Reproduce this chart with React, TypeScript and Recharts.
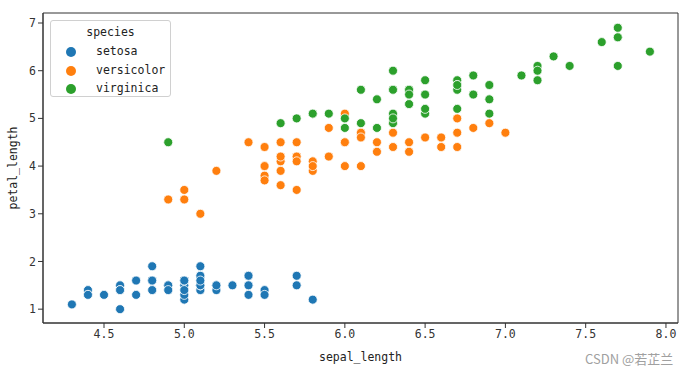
import { ReferenceArea, Scatter, ScatterChart, XAxis, YAxis } from "recharts";

const species = ["setosa", "versicolor", "virginica"];
const speciesColors = ["#1f77b4", "#ff7f0e", "#2ca02c"];

const setosaSepal = [
  5.1, 4.9, 4.7, 4.6, 5.0, 5.4, 4.6, 5.0, 4.4, 4.9, 5.4, 4.8, 4.8, 4.3, 5.8, 5.7, 5.4, 5.1, 5.7, 5.1,
  5.4, 5.1, 4.6, 5.1, 4.8, 5.0, 5.0, 5.2, 5.2, 4.7, 4.8, 5.4, 5.2, 5.5, 4.9, 5.0, 5.5, 4.9, 4.4, 5.1,
  5.0, 4.5, 4.4, 5.0, 5.1, 4.8, 5.1, 4.6, 5.3, 5.0,
];
const setosaPetal = [
  1.4, 1.4, 1.3, 1.5, 1.4, 1.7, 1.4, 1.5, 1.4, 1.5, 1.5, 1.6, 1.4, 1.1, 1.2, 1.5, 1.3, 1.4, 1.7, 1.5,
  1.7, 1.5, 1.0, 1.7, 1.9, 1.6, 1.6, 1.5, 1.4, 1.6, 1.6, 1.5, 1.5, 1.4, 1.5, 1.2, 1.3, 1.4, 1.3, 1.5,
  1.3, 1.3, 1.3, 1.6, 1.9, 1.4, 1.6, 1.4, 1.5, 1.4,
];
const versicolorSepal = [
  7.0, 6.4, 6.9, 5.5, 6.5, 5.7, 6.3, 4.9, 6.6, 5.2, 5.0, 5.9, 6.0, 6.1, 5.6, 6.7, 5.6, 5.8, 6.2, 5.6,
  5.9, 6.1, 6.3, 6.1, 6.4, 6.6, 6.8, 6.7, 6.0, 5.7, 5.5, 5.5, 5.8, 6.0, 5.4, 6.0, 6.7, 6.3, 5.6, 5.5,
  5.5, 6.1, 5.8, 5.0, 5.6, 5.7, 5.7, 6.2, 5.1, 5.7,
];
const versicolorPetal = [
  4.7, 4.5, 4.9, 4.0, 4.6, 4.5, 4.7, 3.3, 4.6, 3.9, 3.5, 4.2, 4.0, 4.7, 3.6, 4.4, 4.5, 4.1, 4.5, 3.9,
  4.8, 4.0, 4.9, 4.7, 4.3, 4.4, 4.8, 5.0, 4.5, 3.5, 3.8, 3.7, 3.9, 5.1, 4.5, 4.5, 4.7, 4.4, 4.1, 4.0,
  4.4, 4.6, 4.0, 3.3, 4.2, 4.2, 4.2, 4.3, 3.0, 4.1,
];
const virginicaSepal = [
  6.3, 5.8, 7.1, 6.3, 6.5, 7.6, 4.9, 7.3, 6.7, 7.2, 6.5, 6.4, 6.8, 5.7, 5.8, 6.4, 6.5, 7.7, 7.7, 6.0,
  6.9, 5.6, 7.7, 6.3, 6.7, 7.2, 6.2, 6.1, 6.4, 7.2, 7.4, 7.9, 6.4, 6.3, 6.1, 7.7, 6.3, 6.4, 6.0, 6.9,
  6.7, 6.9, 5.8, 6.8, 6.7, 6.7, 6.3, 6.5, 6.2, 5.9,
];
const virginicaPetal = [
  6.0, 5.1, 5.9, 5.6, 5.8, 6.6, 4.5, 6.3, 5.8, 6.1, 5.1, 5.3, 5.5, 5.0, 5.1, 5.3, 5.5, 6.7, 6.9, 5.0,
  5.7, 4.9, 6.7, 4.9, 5.7, 6.0, 4.8, 4.9, 5.6, 5.8, 6.1, 6.4, 5.6, 5.1, 5.6, 6.1, 5.6, 5.5, 4.8, 5.4,
  5.6, 5.1, 5.1, 5.9, 5.7, 5.2, 5.0, 5.2, 5.4, 5.1,
];

const xTicks = [4.5, 5.0, 5.5, 6.0, 6.5, 7.0, 7.5, 8.0];
const yTicks = [1, 2, 3, 4, 5, 6, 7];
const X_DOMAIN: [number, number] = [4.12, 8.075];
const Y_DOMAIN: [number, number] = [0.71, 7.21];

const sepalBySpecies = [setosaSepal, versicolorSepal, virginicaSepal];
const petalBySpecies = [setosaPetal, versicolorPetal, virginicaPetal];

const series = species.map((name, i) => ({
  name,
  color: speciesColors[i],
  points: sepalBySpecies[i].map((x, j) => ({ sepal_length: x, petal_length: petalBySpecies[i][j] })),
}));

const MONO = "'DejaVu Sans Mono', monospace";
const AXIS = "#333";

function Dot(props: any) {
  const { cx, cy, fill } = props;
  return <circle cx={cx} cy={cy} r={4.5} fill={fill} stroke="#fff" strokeWidth={0.8} />;
}

function SpeciesLegend() {
  return (
    <div
      style={{
        position: "absolute",
        left: 50,
        top: 20,
        width: 121,
        height: 77,
        border: "1px solid #d0d0d0",
        borderRadius: 3,
        background: "rgba(255,255,255,0.8)",
        fontFamily: MONO,
        fontSize: 11.5,
        color: "#222",
        boxSizing: "border-box",
      }}
    >
      <div style={{ position: "absolute", top: 4, width: "100%", textAlign: "center" }}>species</div>
      {series.map((s, i) => (
        <div key={s.name} style={{ position: "absolute", top: 23 + i * 18.5, left: 0, height: 16 }}>
          <span
            style={{
              position: "absolute",
              left: 15,
              top: 3,
              width: 10,
              height: 10,
              borderRadius: "50%",
              background: s.color,
            }}
          />
          <span style={{ position: "absolute", left: 45, top: 0, whiteSpace: "nowrap" }}>{s.name}</span>
        </div>
      ))}
    </div>
  );
}

export default function App() {
  return (
    <div style={{ position: "absolute", left: 0, top: 0, width: 700, height: 375, background: "#fff" }}>
      <ScatterChart width={700} height={375} margin={{ top: 13, right: 22, bottom: 14, left: 0 }}>
        <XAxis
          type="number"
          dataKey="sepal_length"
          domain={X_DOMAIN}
          ticks={xTicks}
          allowDataOverflow
          tickFormatter={(v: number) => v.toFixed(1)}
          tickSize={5}
          stroke={AXIS}
          height={38}
          tick={{ fill: "#333", fontSize: 11.5, fontFamily: MONO }}
          label={{
            value: "sepal_length",
            position: "insideBottom",
            offset: 0,
            style: { fill: "#222", fontSize: 11.5, fontFamily: MONO },
          }}
        />
        <YAxis
          type="number"
          dataKey="petal_length"
          domain={Y_DOMAIN}
          ticks={yTicks}
          allowDataOverflow
          tickSize={5}
          width={43}
          stroke={AXIS}
          tick={{ fill: "#333", fontSize: 11.5, fontFamily: MONO }}
          label={{
            value: "petal_length",
            angle: -90,
            position: "insideLeft",
            offset: 13,
            style: { fill: "#222", fontSize: 11.5, fontFamily: MONO, textAnchor: "middle" },
          }}
        />
        <ReferenceArea
          x1={X_DOMAIN[0]}
          x2={X_DOMAIN[1]}
          y1={Y_DOMAIN[0]}
          y2={Y_DOMAIN[1]}
          fill="none"
          stroke={AXIS}
          strokeWidth={1}
        />
        {series.map((s) => (
          <Scatter
            key={s.name}
            name={s.name}
            data={s.points}
            fill={s.color}
            shape={<Dot />}
            isAnimationActive={false}
          />
        ))}
      </ScatterChart>
      <SpeciesLegend />
      <div
        style={{
          position: "absolute",
          left: 585,
          top: 349,
          fontFamily: "'Noto Sans CJK SC', sans-serif",
          fontSize: 13,
          color: "#a0a0a0",
          whiteSpace: "nowrap",
        }}
      >
        CSDN @若芷兰
      </div>
    </div>
  );
}
